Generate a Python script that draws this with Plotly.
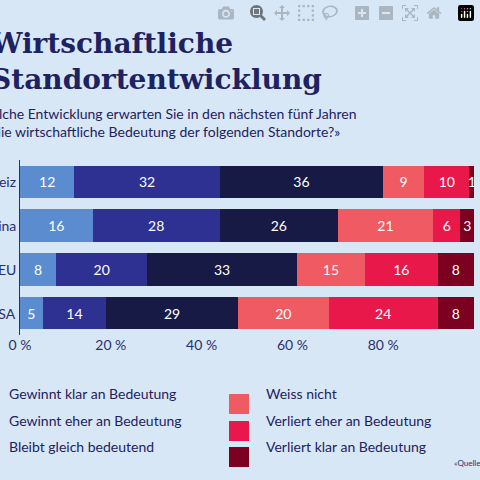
import plotly.graph_objects as go

categories = ["Schweiz", "China", "EU", "USA"]
series = ["Gewinnt klar an Bedeutung", "Gewinnt eher an Bedeutung", "Bleibt gleich bedeutend",
          "Weiss nicht", "Verliert eher an Bedeutung", "Verliert klar an Bedeutung"]
values = [
    [12, 16, 8, 5],
    [32, 28, 20, 14],
    [36, 26, 33, 29],
    [9, 21, 15, 20],
    [10, 6, 16, 24],
    [1, 3, 8, 8],
]
colors = ["#5b8cd0", "#2e3192", "#161a45", "#f05a63", "#e8194a", "#7c0020"]
tick_vals = [0, 20, 40, 60, 80, 100]
tick_text = ["0 %", "20 %", "40 %", "60 %", "80 %", "100 %"]

bg = "#d8e7f5"
fig = go.Figure()
for name, vals, c in zip(series, values, colors):
    fig.add_trace(go.Bar(
        y=categories, x=vals, name=name, orientation="h", marker=dict(color=c, line=dict(width=0)),
        text=[str(v) for v in vals], textposition="inside", insidetextanchor="middle",
        textfont=dict(color="white", size=14, family="Lato, sans-serif"),
        constraintext="none", showlegend=False))

fig.update_layout(
    barmode="stack", width=480, height=480, paper_bgcolor=bg, plot_bgcolor=bg,
    margin=dict(l=20, r=6, t=160, b=145), bargap=0.26,
    font=dict(family="Lato, sans-serif", color="#2a2f6e"),
    xaxis=dict(range=[0, 100], tickvals=tick_vals, ticktext=tick_text, showgrid=False, zeroline=False,
               tickfont=dict(size=14, color="#2a2f6e"), fixedrange=True),
    yaxis=dict(autorange="reversed", showticklabels=False, showline=True, linecolor="#2a2f6e",
               linewidth=1, showgrid=False),
)
for cat in categories:
    fig.add_annotation(x=-0.004, xref="paper", y=cat, yref="y", text=cat, xanchor="right",
                       showarrow=False, font=dict(size=14, color="#2a2f6e"))

fig.add_annotation(x=-0.07, y=1.0, xref="paper", yref="paper", xanchor="left", yanchor="top",
                   text="<b>Wirtschaftliche<br>Standortentwicklung</b>", showarrow=False, align="left",
                   yshift=135, font=dict(family="DejaVu Serif, serif", size=28, color="#1e2260"))
fig.add_annotation(x=-0.11, y=1.0, xref="paper", yref="paper", xanchor="left", yanchor="top",
                   text="«Welche Entwicklung erwarten Sie in den nächsten fünf Jahren<br>für die wirtschaftliche Bedeutung der folgenden Standorte?»",
                   showarrow=False, align="left", yshift=57,
                   font=dict(size=14, color="#1e2260"))

leg_y = [404, 431, 457]

def px_x(p):
    return (p - 20) / (474 - 20)
def px_y(p):
    return (335 - p) / (335 - 160)

for i in range(3):
    fig.add_annotation(x=px_x(7), y=px_y(leg_y[i]), xref="paper", yref="paper", xanchor="left",
                       text=series[i], showarrow=False, font=dict(size=14, color="#1e2260"))
    fig.add_shape(type="rect", xref="paper", yref="paper", x0=px_x(229), x1=px_x(249),
                  y0=px_y(leg_y[i] + 10), y1=px_y(leg_y[i] - 10), fillcolor=colors[3 + i], line=dict(width=0))
    fig.add_annotation(x=px_x(264), y=px_y(leg_y[i]), xref="paper", yref="paper", xanchor="left",
                       text=series[3 + i], showarrow=False, font=dict(size=14, color="#1e2260"))
fig.add_annotation(x=px_x(452), y=px_y(470), xref="paper", yref="paper", xanchor="left",
                   text="«Quelle:", showarrow=False, font=dict(size=8, color="#2a2f6e"))

fig.write_html("out.html", post_script="document.body.style.margin='0';document.body.style.overflow='hidden';")
